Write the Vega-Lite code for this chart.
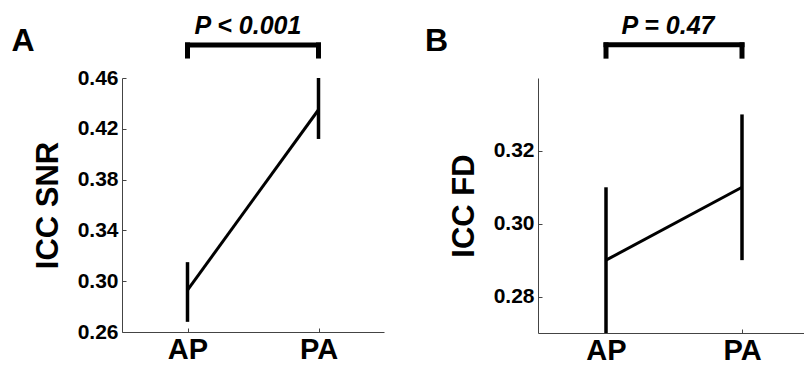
{
  "$schema": "https://vega.github.io/schema/vega-lite/v6.json",
  "background": "white",
  "padding": {"left": 11, "top": 13, "right": 0, "bottom": 0},
  "bounds": "flush",
  "spacing": 154,
  "config": {
    "font": "Liberation Sans",
    "view": {"stroke": null},
    "axis": {
      "grid": false,
      "domainColor": "#444",
      "domainWidth": 1,
      "tickColor": "#444",
      "tickSize": -4,
      "labelFont": "Liberation Sans",
      "labelFontWeight": "bold",
      "labelColor": "black",
      "titleFont": "Liberation Sans",
      "titleFontWeight": "bold",
      "titleColor": "black"
    },
    "title": {"font": "Liberation Sans", "fontSize": 25, "fontStyle": "italic", "fontWeight": "bold", "color": "black", "anchor": "middle"}
  },
  "datasets": {
    "snr": [
      {"dir": "AP", "mean": 0.293, "lo": 0.268, "hi": 0.315},
      {"dir": "PA", "mean": 0.435, "lo": 0.412, "hi": 0.46}
    ],
    "fd": [
      {"dir": "AP", "mean": 0.29, "lo": 0.27, "hi": 0.31},
      {"dir": "PA", "mean": 0.31, "lo": 0.29, "hi": 0.33}
    ]
  },
  "hconcat": [
    {
      "width": 262,
      "height": 254,
      "title": {"text": "P < 0.001", "dx": -5, "offset": -14},
      "data": {"name": "snr"},
      "layer": [
        {
          "mark": {"type": "line", "color": "black", "strokeWidth": 3},
          "encoding": {
            "x": {"field": "dir", "type": "nominal", "scale": {"type": "point", "padding": 0.5},
                  "axis": {"title": null, "labelAngle": 0, "labelFontSize": 29, "labelPadding": 7}},
            "y": {"field": "mean", "type": "quantitative",
                  "scale": {"domain": [0.26, 0.46], "nice": false, "zero": false},
                  "axis": {"title": "ICC SNR", "titleFontSize": 31, "titlePadding": 13, "labelFontSize": 21, "labelPadding": 8,
                           "values": [0.26, 0.30, 0.34, 0.38, 0.42, 0.46], "format": ".2f"}}
          }
        },
        {
          "mark": {"type": "rule", "color": "black", "strokeWidth": 3.5},
          "encoding": {
            "x": {"field": "dir", "type": "nominal"},
            "y": {"field": "lo", "type": "quantitative"},
            "y2": {"field": "hi"}
          }
        },
        {
          "data": {"values": [{}]},
          "mark": {"type": "rule", "color": "black", "strokeWidth": 5, "strokeCap": "square", "clip": false},
          "encoding": {"x": {"datum": "AP"}, "x2": {"datum": "PA"}, "y": {"datum": 0.486}}
        },
        {
          "data": {"values": [{}]},
          "mark": {"type": "rule", "color": "black", "strokeWidth": 5, "strokeCap": "square", "clip": false},
          "encoding": {"x": {"datum": "AP"}, "y": {"datum": 0.486}, "y2": {"datum": 0.4773}}
        },
        {
          "data": {"values": [{}]},
          "mark": {"type": "rule", "color": "black", "strokeWidth": 5, "strokeCap": "square", "clip": false},
          "encoding": {"x": {"datum": "PA"}, "y": {"datum": 0.486}, "y2": {"datum": 0.4773}}
        },
        {
          "data": {"values": [{}]},
          "mark": {"type": "text", "text": "A", "font": "Liberation Sans", "fontSize": 32, "fontWeight": "bold", "color": "black", "align": "left", "baseline": "alphabetic", "dx": -176, "clip": false},
          "encoding": {"x": {"datum": "AP"}, "y": {"datum": 0.4813}}
        }
      ]
    },
    {
      "width": 272,
      "height": 255,
      "title": {"text": "P = 0.47", "dx": -6, "offset": -14},
      "data": {"name": "fd"},
      "layer": [
        {
          "mark": {"type": "line", "color": "black", "strokeWidth": 3},
          "encoding": {
            "x": {"field": "dir", "type": "nominal", "scale": {"type": "point", "padding": 0.5},
                  "axis": {"title": null, "labelAngle": 0, "labelFontSize": 29, "labelPadding": 7}},
            "y": {"field": "mean", "type": "quantitative",
                  "scale": {"domain": [0.27, 0.34], "nice": false, "zero": false},
                  "axis": {"title": "ICC FD", "titleFontSize": 31, "titlePadding": 13, "labelFontSize": 21, "labelPadding": 8,
                           "values": [0.28, 0.30, 0.32], "format": ".2f"}}
          }
        },
        {
          "mark": {"type": "rule", "color": "black", "strokeWidth": 3.5},
          "encoding": {
            "x": {"field": "dir", "type": "nominal"},
            "y": {"field": "lo", "type": "quantitative"},
            "y2": {"field": "hi"}
          }
        },
        {
          "data": {"values": [{}]},
          "mark": {"type": "rule", "color": "black", "strokeWidth": 5, "strokeCap": "square", "clip": false},
          "encoding": {"x": {"datum": "AP"}, "x2": {"datum": "PA"}, "y": {"datum": 0.3491}}
        },
        {
          "data": {"values": [{}]},
          "mark": {"type": "rule", "color": "black", "strokeWidth": 5, "strokeCap": "square", "clip": false},
          "encoding": {"x": {"datum": "AP"}, "y": {"datum": 0.3491}, "y2": {"datum": 0.346}}
        },
        {
          "data": {"values": [{}]},
          "mark": {"type": "rule", "color": "black", "strokeWidth": 5, "strokeCap": "square", "clip": false},
          "encoding": {"x": {"datum": "PA"}, "y": {"datum": 0.3491}, "y2": {"datum": 0.346}}
        },
        {
          "data": {"values": [{}]},
          "mark": {"type": "text", "text": "B", "font": "Liberation Sans", "fontSize": 32, "fontWeight": "bold", "color": "black", "align": "left", "baseline": "alphabetic", "dx": -181, "clip": false},
          "encoding": {"x": {"datum": "AP"}, "y": {"datum": 0.3474}}
        }
      ]
    }
  ]
}
